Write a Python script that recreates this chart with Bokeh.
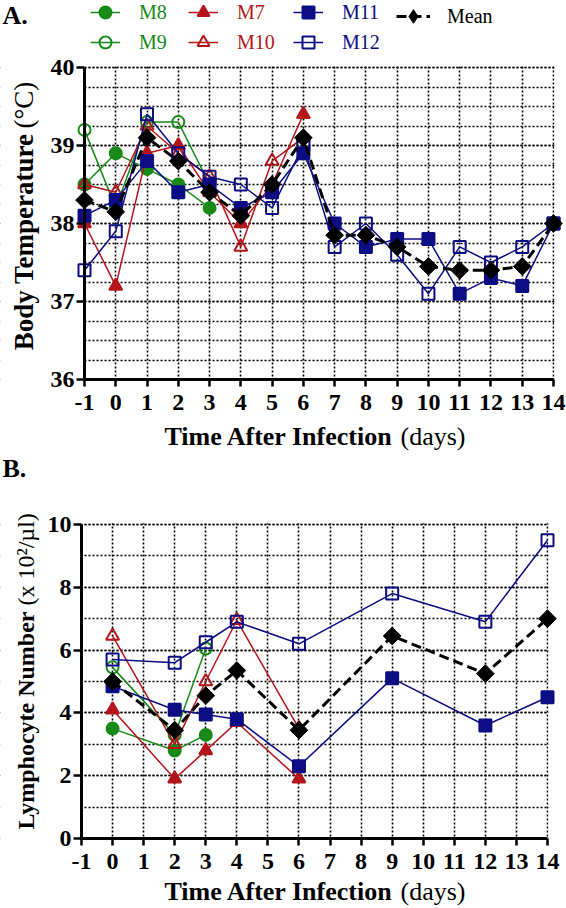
import numpy as np
from bokeh.plotting import figure
from bokeh.models import (Legend, LegendItem, Label, FixedTicker,
                          SingleIntervalTicker, Range1d, BoxAnnotation)
from bokeh.layouts import column
from bokeh.embed import file_html
from bokeh.resources import INLINE

# ---------------- data ----------------
x_ticks = list(range(-1, 15))

days_temp = [-1, 0, 1, 2, 3, 4, 5, 6, 7, 8, 9, 10, 11, 12, 13, 14]
temp_m8 = [38.5, 38.9, 38.7, 38.5, 38.2]
temp_m9 = [39.2, 38.2, 39.3, 39.3, 38.5]
temp_m7 = [38.0, 37.2, 38.9, 39.0, 38.4, 38.0, 38.5, 39.4]
temp_m10 = [38.5, 38.4, 39.25, 38.9, 38.6, 37.7, 38.8, 39.1]
temp_m11 = [38.1, 38.3, 38.8, 38.4, 38.5, 38.2, 38.4, 38.9,
            38.0, 37.7, 37.8, 37.8, 37.1, 37.3, 37.2, 38.0]
temp_m12 = [37.4, 37.9, 39.4, 38.9, 38.6, 38.5, 38.2, 39.0,
            37.7, 38.0, 37.6, 37.1, 37.7, 37.5, 37.7, 38.0]
temp_mean = [38.3, 38.15, 39.1, 38.8, 38.4, 38.1, 38.5, 39.1,
             37.85, 37.85, 37.7, 37.45, 37.4, 37.4, 37.45, 38.0]

days_lymph = [0, 2, 3, 4, 6, 9, 12, 14]
lymph_m8 = [3.5, 2.8, 3.3]
lymph_m9 = [5.45, 3.3, 6.05]
lymph_m7 = [4.1, 1.9, 2.8, 3.7, 1.9]
lymph_m10 = [6.45, 3.0, 5.0, 6.95, 3.5]
lymph_m11 = [4.85, 4.1, 3.95, 3.8, 2.3, 5.1, 3.6, 4.5]
lymph_m12 = [5.7, 5.6, 6.25, 6.9, 6.2, 7.8, 6.9, 9.5]
lymph_mean = [5.0, 3.45, 4.55, 5.35, 3.45, 6.45, 5.25, 7.0]

GREEN = "#178a17"
RED = "#b3151b"
BLUE = "#0c0c84"
BLACK = "#000000"
FONT = "Liberation Serif"

series_style = {
    "M8": (GREEN, "circle", True),
    "M9": (GREEN, "circle", False),
    "M7": (RED, "triangle", True),
    "M10": (RED, "triangle", False),
    "M11": (BLUE, "square", True),
    "M12": (BLUE, "square", False),
    "Mean": (BLACK, "square", True),
}
marker_size = {"circle": 12, "triangle": 13, "square": 12}
W = 566


def make_panel(H, x_left_px, x_right_px, y_top_px, y_bot_px, ylo, yhi, yticker):
    """Figure whose frame is the whole canvas; the axes sit at fixed data
    locations so the titles/legend can live inside the frame."""
    ux = (x_right_px - x_left_px) / 15.0
    uy = (y_bot_px - y_top_px) / (yhi - ylo)
    xr = (-1 - x_left_px / ux, 14 + (W - x_right_px) / ux)
    yr = (ylo - (H - y_bot_px) / uy, yhi + y_top_px / uy)
    p = figure(width=W, height=H, x_range=Range1d(*xr), y_range=Range1d(*yr),
               output_backend="svg", toolbar_location=None,
               min_border=0, min_border_left=0, min_border_right=0,
               min_border_top=0, min_border_bottom=0)
    p.outline_line_color = None
    p.background_fill_color = "white"
    p.border_fill_color = "white"
    p.xaxis.ticker = FixedTicker(ticks=x_ticks)
    p.xaxis.major_label_overrides = {-1: "-1"}
    p.yaxis.ticker = yticker
    p.xaxis.fixed_location = ylo
    p.yaxis.fixed_location = -1
    p.xaxis.bounds = (-1, 14)
    p.yaxis.bounds = (ylo, yhi)
    for ax in (p.xaxis[0], p.yaxis[0]):
        ax.axis_line_width = 3
        ax.axis_line_color = "black"
        ax.major_tick_line_width = 2.5
        ax.major_tick_line_color = "black"
        ax.major_tick_in = 0
        ax.minor_tick_line_color = None
        ax.major_label_text_font = FONT
        ax.major_label_text_font_style = "bold"
        ax.major_label_text_font_size = "24px"
        ax.major_label_text_color = "black"
    p.xaxis.major_tick_out = 7
    p.xaxis.major_label_standoff = 8
    p.yaxis.major_tick_out = 8
    p.yaxis.major_label_standoff = 2
    p.xgrid.ticker = FixedTicker(ticks=x_ticks[1:])
    p.ygrid.bounds = (ylo, yhi)
    for g in (p.xgrid[0], p.ygrid[0]):
        g.grid_line_color = "black"
        g.grid_line_dash = "2 2"
        g.grid_line_width = 1.6
        g.grid_line_alpha = 1.0
    p.ygrid.minor_grid_line_color = "black"
    p.ygrid.minor_grid_line_dash = "2 2"
    p.ygrid.minor_grid_line_width = 1.6
    # white masks so the grid stays inside the data area
    ex = 0.03
    ey = 0.004 * (yhi - ylo)
    for kw in (dict(left=xr[0] - 1, right=-1, bottom=yr[0] - 1, top=yr[1] + 1),
               dict(left=14 + ex, right=xr[1] + 1, bottom=yr[0] - 1, top=yr[1] + 1),
               dict(left=xr[0] - 1, right=xr[1] + 1, bottom=yhi + ey, top=yr[1] + 1),
               dict(left=xr[0] - 1, right=xr[1] + 1, bottom=yr[0] - 1, top=ylo)):
        p.add_layout(BoxAnnotation(fill_color="white", fill_alpha=1.0,
                                   line_color=None, level="underlay", **kw))

    def dx(fx):
        return xr[0] + fx / ux

    def dy(fy):
        return yr[1] - fy / uy
    return p, dx, dy


def draw(p, xs, ys, name):
    color, marker, filled = series_style[name]
    xs = xs[:len(ys)]
    if name == "Mean":
        lr = p.line(xs, ys, line_color=color, line_width=3, line_dash="10 5")
        p.scatter(xs, ys, marker="square", size=12.5, angle=np.pi / 4,
                  line_color=color, fill_color=color, line_width=1)
        # small diamonds hidden inside the big ones; used as the legend swatch
        sw = p.scatter(xs, ys, marker="diamond", size=4, line_color=color,
                       fill_color=color, line_width=1)
        return LegendItem(label=name, renderers=[lr, sw])
    lr = p.line(xs, ys, line_color=color, line_width=1.5)
    sr = p.scatter(xs, ys, marker=marker, size=marker_size[marker],
                   line_color=color, line_width=2,
                   fill_color=color if filled else None)
    return LegendItem(label=name, renderers=[lr, sr])


def add_label(p, x, y, text, bold, size, align, angle=0.0):
    p.add_layout(Label(x=x, y=y, text=text, text_font=FONT,
                       text_font_style="bold" if bold else "normal",
                       text_font_size=size, text_align=align,
                       text_baseline="middle", angle=angle,
                       text_color="black"))


def add_legend(p, its, color, vx, vy, glyph=30, standoff=19):
    lg = Legend(items=its, location=(vx, vy), orientation="vertical",
                label_text_font=FONT, label_text_font_size="20px",
                label_text_color=color, glyph_width=glyph, glyph_height=glyph,
                label_height=20, label_standoff=standoff, spacing=-5,
                padding=0, margin=0, border_line_color=None,
                background_fill_alpha=0)
    p.add_layout(lg)


# ---------------- Panel A ----------------
A_H = 452
pA, dxA, dyA = make_panel(A_H, 84, 553, 67, 379, 36, 40,
                          SingleIntervalTicker(interval=1, num_minor_ticks=4))
items = {}
for name, ys in [("M8", temp_m8), ("M9", temp_m9), ("M7", temp_m7),
                 ("M10", temp_m10), ("M11", temp_m11), ("M12", temp_m12),
                 ("Mean", temp_mean)]:
    items[name] = draw(pA, days_temp, ys, name)

add_legend(pA, [items["M8"], items["M9"]], GREEN, 90, A_H - 57)
add_legend(pA, [items["M7"], items["M10"]], RED, 188, A_H - 57)
add_legend(pA, [items["M11"], items["M12"]], BLUE, 293, A_H - 57)
add_legend(pA, [items["Mean"]], BLACK, 396, A_H - 33, glyph=34, standoff=17)

add_label(pA, dxA(2), dyA(15), "A.", True, "26px", "left")
add_label(pA, dxA(23), dyA(133), "Body Temperature", True, "27px", "right", np.pi / 2)
add_label(pA, dxA(23), dyA(128), "(°C)", False, "27px", "left", np.pi / 2)
add_label(pA, dxA(393), dyA(436), "Time After Infection", True, "26px", "right")
add_label(pA, dxA(400), dyA(436), "(days)", False, "26px", "left")

# ---------------- Panel B ----------------
B_H = 456
pB, dxB, dyB = make_panel(B_H, 81, 547, 72, 386, 0, 10,
                          SingleIntervalTicker(interval=2, num_minor_ticks=2))
for name, ys in [("M8", lymph_m8), ("M9", lymph_m9), ("M7", lymph_m7),
                 ("M10", lymph_m10), ("M11", lymph_m11), ("M12", lymph_m12),
                 ("Mean", lymph_mean)]:
    draw(pB, days_lymph, ys, name)

add_label(pB, dxB(2), dyB(16), "B.", True, "26px", "left")
add_label(pB, dxB(25), dyB(159), "Lymphocyte Number", True, "24px", "right", np.pi / 2)
add_label(pB, dxB(25), dyB(153), "(x 10²/µl)", False, "24px", "left", np.pi / 2)
add_label(pB, dxB(393), dyB(439), "Time After Infection", True, "26px", "right")
add_label(pB, dxB(400), dyB(439), "(days)", False, "26px", "left")

layout = column(pA, pB, spacing=0)
open("out.html", "w").write(file_html(layout, INLINE))
